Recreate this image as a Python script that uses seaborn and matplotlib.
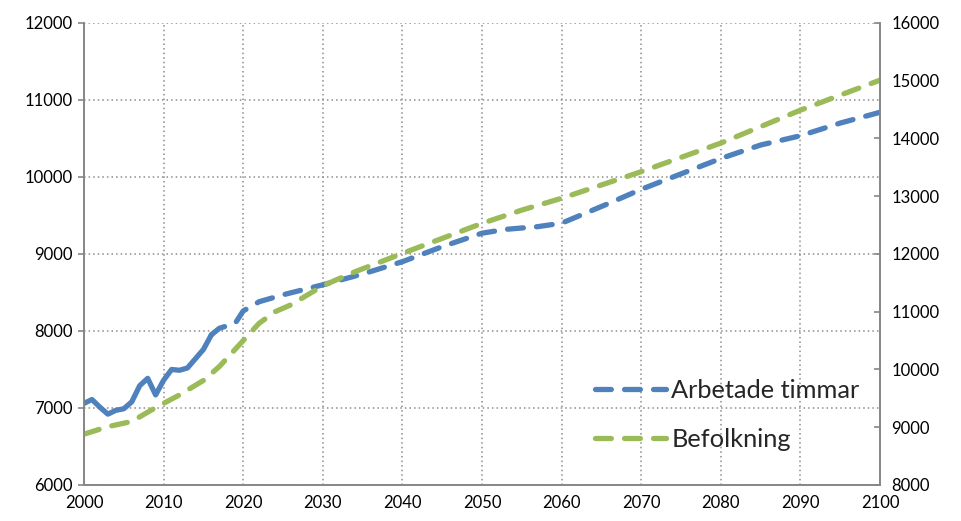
import numpy as np
import pandas as pd
import matplotlib.pyplot as plt
import seaborn as sns
from matplotlib.lines import Line2D

# Arbetade timmar (left axis) - utfall 2000-2016, prognos därefter
hist_years = [2000, 2001, 2002, 2003, 2004, 2005, 2006, 2007, 2008, 2009,
              2010, 2011, 2012, 2013, 2014, 2015, 2016]
hist_hours = [7060, 7110, 7010, 6920, 6970, 6990, 7080, 7290, 7385, 7170,
              7360, 7500, 7490, 7520, 7640, 7760, 7950]

proj_years = [2016, 2017, 2019, 2020, 2022, 2025, 2030, 2035, 2040, 2045,
              2050, 2053, 2057, 2060, 2063, 2066, 2070, 2074, 2080, 2085,
              2090, 2095, 2100]
proj_hours = [7950, 8035, 8100, 8260, 8380, 8470, 8600, 8740, 8900, 9095,
              9270, 9320, 9355, 9400, 9530, 9660, 9840, 10000, 10240, 10415,
              10535, 10700, 10840]

# Befolkning (right axis)
pop_years = [2000, 2003, 2006, 2009, 2012, 2015, 2017, 2020, 2022, 2024,
             2026, 2030, 2034, 2040, 2045, 2050, 2055, 2060, 2070, 2080,
             2090, 2100]
pop_values = [8880, 9010, 9100, 9340, 9560, 9810, 10050, 10500, 10800, 11000,
              11120, 11450, 11690, 12010, 12270, 12530, 12760, 12965, 13425,
              13920, 14490, 15010]

blue = "#4F81BD"
green = "#9BBB59"
grid_col = "#8C8C8C"
lw = 3.8
dash = (3.0, 2.5)

sns.set_style("white")
plt.rcParams["font.family"] = ["Lato", "DejaVu Sans"]

fig = plt.figure(figsize=(9.61, 5.21), dpi=100)
ax = fig.add_axes([0.0874, 0.0691, 0.8283, 0.8868])
ax2 = ax.twinx()

hist = pd.DataFrame({"year": hist_years, "value": hist_hours})
proj = pd.DataFrame({"year": proj_years, "value": proj_hours})
pop = pd.DataFrame({"year": pop_years, "value": pop_values})

sns.lineplot(data=hist, x="year", y="value", ax=ax, color=blue, lw=lw,
             solid_capstyle="round", solid_joinstyle="round", legend=False)
sns.lineplot(data=proj, x="year", y="value", ax=ax, color=blue, lw=lw,
             legend=False)
ax.lines[-1].set_dashes(dash)
ax.lines[-1].set_dash_capstyle("round")
sns.lineplot(data=pop, x="year", y="value", ax=ax2, color=green, lw=lw,
             legend=False)
ax2.lines[-1].set_dashes(dash)
ax2.lines[-1].set_dash_capstyle("round")

ax.set_xlim(2000, 2100)
ax.set_ylim(6000, 12000)
ax2.set_ylim(8000, 16000)
ax.set_xticks(np.arange(2000, 2101, 10))
ax.set_yticks(np.arange(6000, 12001, 1000))
ax2.set_yticks(np.arange(8000, 16001, 1000))

ax.grid(True, color=grid_col, linestyle=(0, (1, 2)), linewidth=1.1)
ax2.grid(False)
ax.set_xlabel("")
ax.set_ylabel("")
ax2.set_ylabel("")

for a in (ax, ax2):
    a.spines["top"].set_visible(False)
    for s in ("left", "right", "bottom"):
        a.spines[s].set_color("#868686")
        a.spines[s].set_linewidth(1.2)
    a.tick_params(labelsize=12, colors="#868686", labelcolor="black",
                  length=4, width=1.2)
ax.tick_params(axis="y", pad=4)
ax2.tick_params(axis="y", direction="in", pad=8)
ax.tick_params(axis="x", direction="out", pad=3)

# legend
handles = [
    Line2D([], [], color=blue, lw=lw, dashes=dash, dash_capstyle="round"),
    Line2D([], [], color=green, lw=lw, dashes=dash, dash_capstyle="round"),
]
ax2.legend(handles, ["Arbetade timmar", "Befolkning"], loc="lower right",
           bbox_to_anchor=(1.003, 0.025), frameon=False, fontsize=18.3,
           handlelength=2.8, handletextpad=0.2, labelspacing=1.0)

fig.savefig("out.png", dpi=100)
